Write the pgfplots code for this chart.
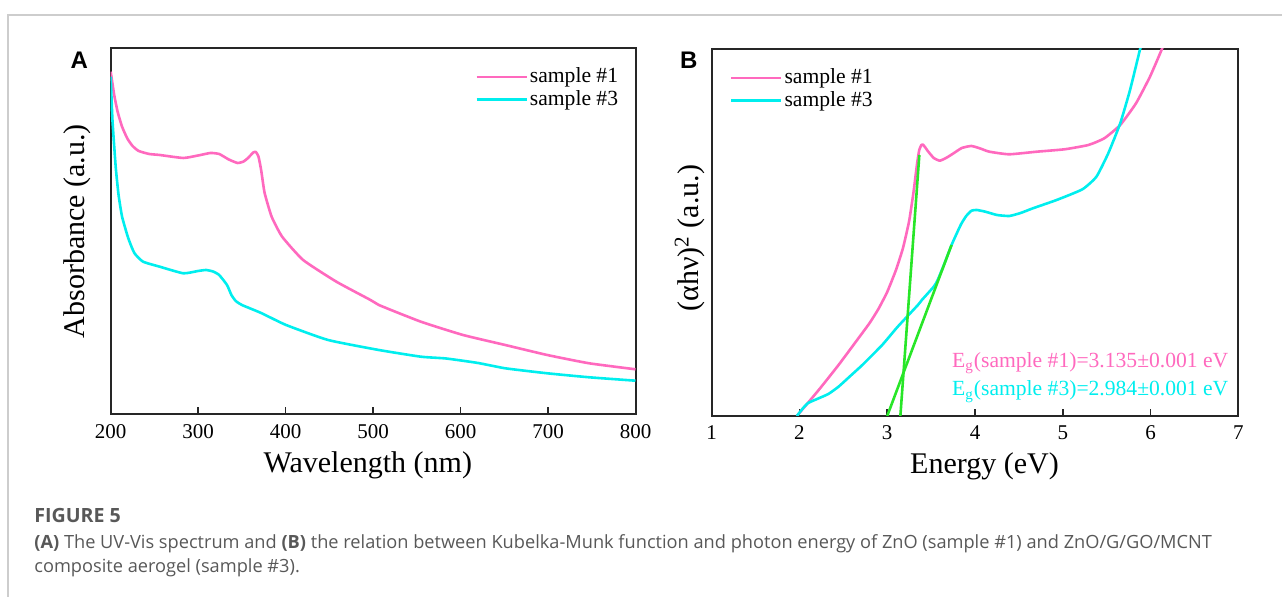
\documentclass[border=0pt]{standalone}
\usepackage{fontspec}
\setmainfont{Liberation Serif}
\newfontfamily\arialfont{Liberation Sans}
\newfontfamily\capfont{Open Sans}
\usepackage{pgfplots}
\pgfplotsset{compat=1.18}
\definecolor{pinkc}{RGB}{255,105,190}
\definecolor{cyanc}{RGB}{0,238,238}
\definecolor{greenc}{RGB}{40,230,40}
\definecolor{framec}{RGB}{205,205,205}
\definecolor{capgray}{RGB}{88,88,88}
\pgfplotsset{
  myaxis/.style={
    scale only axis,
    anchor=south west,
    axis line style={line width=1pt, black!85},
    ytick=\empty,
    xtick pos=bottom,
    tick align=inside,
    major tick length=3.5pt,
    tick style={line width=0.8pt, black!85},
    /pgf/number format/assume math mode=true,
    xticklabel style={font=\fontsize{10.5}{12}\selectfont, yshift=-1.5pt},
    label style={font=\fontsize{15}{18}\selectfont},
    legend cell align=left,
    legend image code/.code={\draw[##1,line width=1.3pt] (0pt,0pt) -- (25pt,0pt);},
    every axis plot/.append style={line width=1.3pt, line join=round},
  }
}
\begin{document}
\begin{tikzpicture}
\path[use as bounding box] (0,0) rectangle (641pt,298.5pt);
\draw[framec, line width=0.7pt] (4pt,0pt) -- (4pt,291pt) -- (641pt,291pt);

% Panel A
\begin{axis}[myaxis,
  at={(55.35pt,91.25pt)}, width=262.4pt, height=183.25pt,
  xmin=200, xmax=800, ymin=0, ymax=366.5,
  xtick={200,300,...,800},
  xlabel={Wavelength (nm)},
  ylabel={Absorbance (a.u.)},
  xlabel style={at={(axis description cs:0.490,-0.138)}, anchor=center},
  ylabel style={at={(axis description cs:-0.064,0.5)}, anchor=center},
  legend style={at={(rel axis cs:0.694,0.952)}, anchor=north west, draw=none, fill=none,
    font=\fontsize{10.8}{12}\selectfont, row sep=0.3pt, inner sep=0pt,
    nodes={inner sep=1pt}},
]
\addplot[pinkc, smooth, tension=0.3] coordinates {
(200,342.8) (204,319.5) (208,302.5) (213,287.8) (219,276) (225,268.5) (232,263.5) (244,260.5) (256,259.5)
(283,256.5) (300,259) (314,261.5) (324,260.5) (335,255) (345,251.5) (352,253)
(357,256.5) (363,262) (366,262.5) (369,257.8) (372,244.5) (376,221.5) (384,197.8)
(396,177.8) (420,154.5) (458,132.8) (497,114.5) (506.5,109.5) (554.6,92.8)
(602.8,79.5) (651,69.5) (699,59.5) (747,51.2) (800,45.2)};
\addlegendentry{sample \#1}
\addplot[cyanc, smooth, tension=0.3] coordinates {
(200,337.8) (202,294.5) (205.7,247.8) (209,219.5) (213,197.8) (220,176.5) (227,161.5)
(237,152.8) (256,147.8) (283,141.2) (300,143.5) (309,144.5) (317,143) (324,139.5)
(333,129.5) (338,119.5) (343,113.5) (350,109.5) (372,101.5) (400.5,89.5) (448.5,74.5)
(506.5,64.5) (554.6,57.8) (583.4,56) (620,51.5) (651,46.2) (699,41.2) (747,37.2) (800,33.8)};
\addlegendentry{sample \#3}
\end{axis}

% Panel B
\begin{axis}[myaxis,
  at={(355.8pt,90.5pt)}, width=263.4pt, height=183.5pt,
  xmin=1, xmax=7, ymin=0, ymax=367,
  xtick={1,2,...,7},
  xlabel={Energy (eV)},
  ylabel={(αhν)\textsuperscript{2} (a.u.)},
  xlabel style={at={(axis description cs:0.518,-0.136)}, anchor=center},
  ylabel style={at={(axis description cs:-0.041,0.485)}, anchor=center},
  legend style={at={(rel axis cs:0.034,0.952)}, anchor=north west, draw=none, fill=none,
    font=\fontsize{10.8}{12}\selectfont, row sep=0.3pt, inner sep=0pt,
    nodes={inner sep=1pt}},
]
\addplot[pinkc, smooth, tension=0.3] coordinates {
(1.971,0) (2.22,26) (2.446,51) (2.672,77.7) (2.80,93) (2.90,107) (3.00,124) (3.10,146)
(3.18,168) (3.25,195) (3.30,224) (3.34,252) (3.365,266) (3.39,271) (3.404,271.5)
(3.43,269) (3.462,265) (3.53,258) (3.60,255.3) (3.68,258.5) (3.756,262.7) (3.85,268)
(3.959,270) (4.06,267.5) (4.163,264.3) (4.389,261.7) (4.705,264.3) (5.021,266.7)
(5.292,271) (5.473,277.7) (5.654,291) (5.834,312.7) (5.993,339.3) (6.128,366.7) (6.15,372)};
\addlegendentry{sample \#1}
\addplot[cyanc, smooth, tension=0.3] coordinates {
(1.971,0) (2.04,7.7) (2.10,13) (2.22,17.7) (2.33,22) (2.446,29.3) (2.58,40) (2.717,51)
(2.943,71) (3.12,89.3) (3.35,111) (3.395,116) (3.53,129.3) (3.575,136) (3.65,152)
(3.733,171) (3.81,186) (3.847,192.7) (3.90,200) (3.96,205.3) (4.02,206) (4.118,204.3)
(4.25,201) (4.39,200) (4.52,203) (4.66,207.7) (4.93,216) (5.224,226.7) (5.383,239.3)
(5.518,262.7) (5.654,292.7) (5.766,326) (5.88,366.7) (5.90,372)};
\addlegendentry{sample \#3}
\addplot[greenc, forget plot] coordinates {(3.15,0) (3.366,261)};
\addplot[greenc, forget plot] coordinates {(3.0,0) (3.733,171)};
\node[anchor=base east, text=pinkc, font=\fontsize{10.8}{12}\selectfont, inner sep=0pt]
  at (axis cs:6.89,48.7) {E\textsubscript{g}(sample \#1)=3.135±0.001 eV};
\node[anchor=base east, text=cyanc, font=\fontsize{10.8}{12}\selectfont, inner sep=0pt]
  at (axis cs:6.89,20) {E\textsubscript{g}(sample \#3)=2.984±0.001 eV};
\end{axis}

\node[font=\arialfont\bfseries\fontsize{12}{14}\selectfont] at (39.65pt,268.5pt) {A};
\node[font=\arialfont\bfseries\fontsize{12}{14}\selectfont] at (344.4pt,268.5pt) {B};

\node[anchor=base west, inner sep=0pt, text=capgray, font=\capfont\bfseries\fontsize{9.8}{11}\selectfont] at (17pt,37pt) {FIGURE 5};
\node[anchor=base west, inner sep=0pt, text=capgray, font=\capfont\fontsize{9.1}{11}\selectfont] at (17pt,24pt)
  {\textbf{(A)} The UV-Vis spectrum and \textbf{(B)} the relation between Kubelka-Munk function and photon energy of ZnO (sample \#1) and ZnO/G/GO/MCNT};
\node[anchor=base west, inner sep=0pt, text=capgray, font=\capfont\fontsize{9.1}{11}\selectfont] at (17pt,12pt)
  {composite aerogel (sample \#3).};
\end{tikzpicture}
\end{document}
